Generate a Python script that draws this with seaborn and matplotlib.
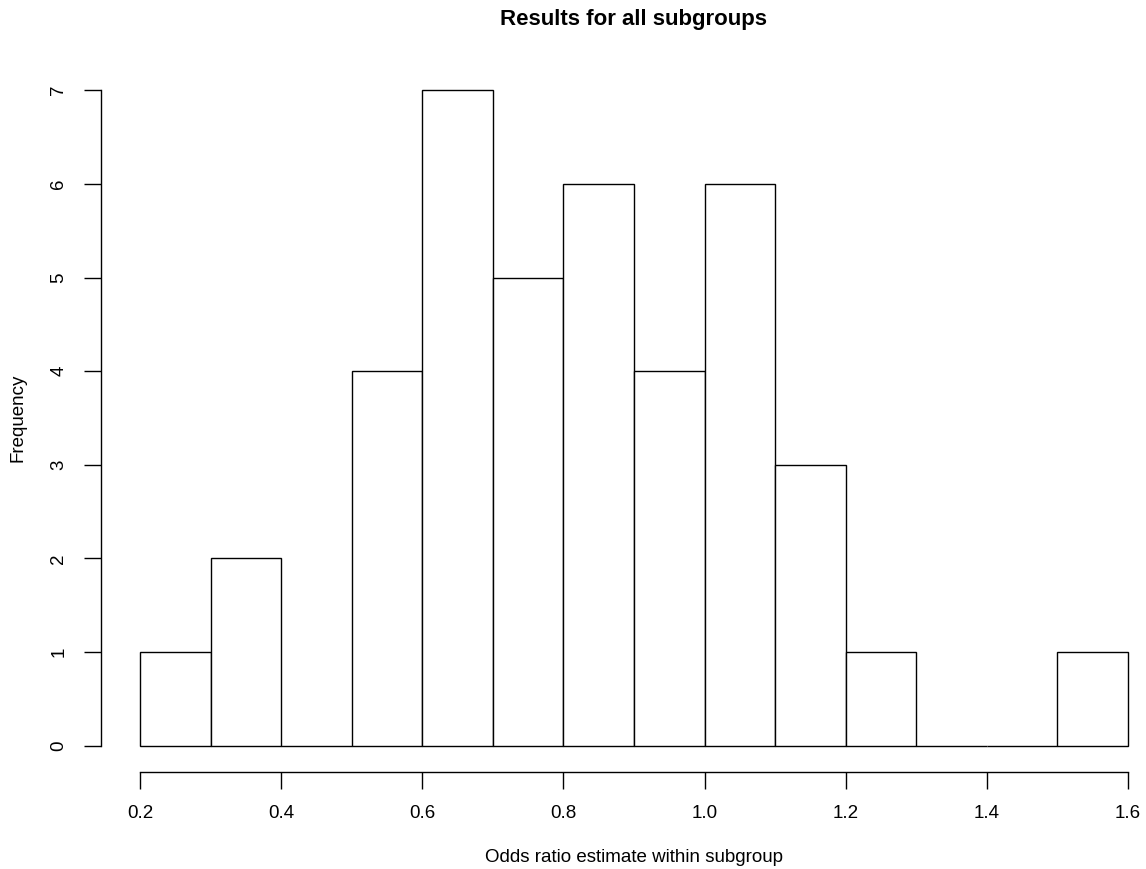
import numpy as np
import pandas as pd
import matplotlib
matplotlib.use("Agg")
import matplotlib.pyplot as plt
import seaborn as sns

# histogram counts (bin width 0.1)
bin_edges = [0.2, 0.3, 0.4, 0.5, 0.6, 0.7, 0.8, 0.9, 1.0, 1.1, 1.2, 1.3, 1.4, 1.5, 1.6]
counts = [1, 2, 0, 4, 7, 5, 6, 4, 6, 3, 1, 0, 0, 1]
x_ticks = [0.2, 0.4, 0.6, 0.8, 1.0, 1.2, 1.4, 1.6]
y_ticks = [0, 1, 2, 3, 4, 5, 6, 7]

centers = [(a + b) / 2 for a, b in zip(bin_edges[:-1], bin_edges[1:])]
df = pd.DataFrame({"or": centers, "n": counts})

sns.set_style("white")
plt.rcParams["font.family"] = ["Liberation Sans", "DejaVu Sans"]
plt.rcParams["text.color"] = "black"
plt.rcParams["xtick.color"] = "black"
plt.rcParams["ytick.color"] = "black"

W, H = 1146, 869
fig = plt.figure(figsize=(W / 100, H / 100), dpi=100)
# plot region in pixels (R style, 4% padding around the data range)
left_px, right_px = 100.5, 1146
ax = fig.add_axes([left_px / W, (H - 772) / H, (right_px - left_px) / W, (772 - 64) / H])

sns.histplot(data=df, x="or", weights="n", bins=bin_edges, ax=ax,
             color="white", edgecolor="black", linewidth=1.0, alpha=1)

px_per_unit = 988 / 1.4
ax.set_xlim(0.2 - 39.5 / px_per_unit, 0.2 + (right_px - 140) / px_per_unit)
ax.set_ylim(-0.28, 7.28)

for s in ["top", "right"]:
    ax.spines[s].set_visible(False)
ax.spines["bottom"].set_bounds(0.2, 1.6)
ax.spines["left"].set_bounds(0, 7)
for s in ["bottom", "left"]:
    ax.spines[s].set_color("black")
    ax.spines[s].set_linewidth(1.0)

ax.set_xticks(x_ticks)
ax.set_xticklabels([f"{v:.1f}" for v in x_ticks])
ax.set_yticks(y_ticks)
ax.set_yticklabels([str(v) for v in y_ticks], rotation=90, va="center")
ax.tick_params(axis="both", direction="out", length=12, width=1.0, color="black",
               labelcolor="black", labelsize=13.5, pad=12, bottom=True, left=True)

ax.set_xlabel("")
ax.set_ylabel("")
fig.text(634 / W, 1 - 857 / H, "Odds ratio estimate within subgroup",
         ha="center", va="center", fontsize=13.5, color="black")
fig.text(18 / W, 1 - 418 / H, "Frequency", ha="center", va="center",
         rotation=90, fontsize=13.5, color="black")
fig.text(634 / W, 1 - 19 / H, "Results for all subgroups", ha="center",
         va="center", fontsize=16, fontweight="bold", color="black")

fig.savefig("out.png", dpi=100)
